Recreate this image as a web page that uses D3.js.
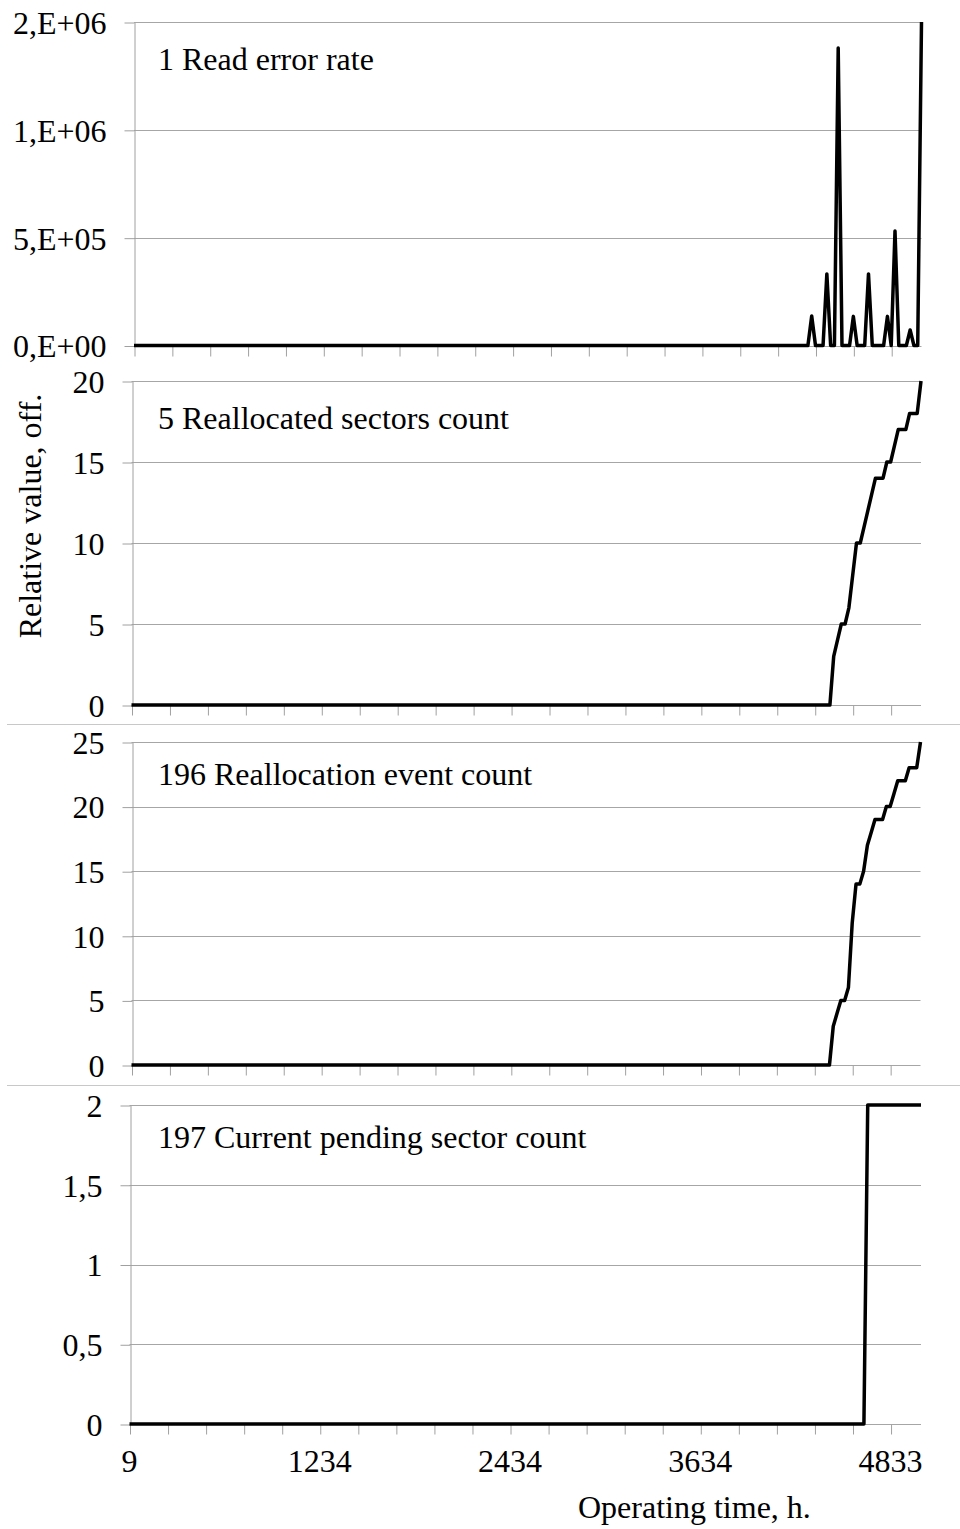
<!DOCTYPE html>
<html>
<head>
<meta charset="utf-8">
<script src="https://cdn.jsdelivr.net/npm/d3@7"></script>
<style>
body { margin: 0; background: #fff; }
text { font-family: "Liberation Serif", "Times New Roman", serif; font-size: 32px; fill: #000; }
</style>
</head>
<body>
<script>
// categories are daily samples, index 0..208, labelled every 50th
var nCategories = 209
var timeLabels = ["9", "1234", "2434", "3634", "4833"]
var timeLabelIndex = [0, 50, 100, 150, 200]

// series as [category index, value]; the flat zero stretch is given by its ends
var readErrorRate = [[0,0],[178,0],[179,137000],[180,0],[181,0],[182,0],[183,332000],[184,0],[185,0],
  [186,1379000],[187,0],[188,0],[189,0],[190,135000],[191,0],[192,0],[193,0],[194,332000],[195,0],
  [196,0],[197,0],[198,0],[199,135000],[200,0],[201,531000],[202,0],[203,0],[204,0],[205,72000],
  [206,0],[207,0],[208,1500000]]

var reallocatedSectors = [[0,0],[184,0],[185,3],[186,4],[187,5],[188,5],[189,6],[190,8],[191,10],
  [192,10],[193,11],[194,12],[195,13],[196,14],[197,14],[198,14],[199,15],[200,15],[201,16],[202,17],
  [203,17],[204,17],[205,18],[206,18],[207,18],[208,20]]

var reallocationEvents = [[0,0],[184,0],[185,3],[186,4],[187,5],[188,5],[189,6],[190,11],[191,14],
  [192,14],[193,15],[194,17],[195,18],[196,19],[197,19],[198,19],[199,20],[200,20],[201,21],[202,22],
  [203,22],[204,22],[205,23],[206,23],[207,23],[208,25]]

var pendingSectors = [[0,0],[193,0],[194,2],[208,2]]

var readTicks = [0, 500000, 1000000, 1500000]
var readTickLabels = ["0,E+00", "5,E+05", "1,E+06", "2,E+06"]
var sectorTicks = [0, 5, 10, 15, 20]
var eventTicks = [0, 5, 10, 15, 20, 25]
var pendingTicks = [0, 0.5, 1, 1.5, 2]
var pendingTickLabels = ["0", "0,5", "1", "1,5", "2"]

var panels = [
  {title: "1 Read error rate", data: readErrorRate, max: 1500000, ticks: readTicks, labels: readTickLabels,
   left: 134, right: 921.5, top: 22, bottom: 345.5, titleY: 70},
  {title: "5 Reallocated sectors count", data: reallocatedSectors, max: 20, ticks: sectorTicks, labels: null,
   left: 131.5, right: 921, top: 381, bottom: 705, titleY: 429},
  {title: "196 Reallocation event count", data: reallocationEvents, max: 25, ticks: eventTicks, labels: null,
   left: 131.5, right: 920.5, top: 742, bottom: 1065, titleY: 785},
  {title: "197 Current pending sector count", data: pendingSectors, max: 2, ticks: pendingTicks, labels: pendingTickLabels,
   left: 129.5, right: 921, top: 1105, bottom: 1424, titleY: 1148}
]

var svg = d3.select("body").append("svg")
    .attr("width", 960)
    .attr("height", 1529)

// thin separators between the stacked charts
svg.selectAll(".sep")
  .data([724.5, 1085.5])
  .enter().append("line")
    .attr("x1", 7).attr("x2", 960)
    .attr("y1", function(d) { return d }).attr("y2", function(d) { return d })
    .attr("stroke", "#c8c8c8").attr("stroke-width", 1)

panels.forEach(function(p, k) {
  var x = d3.scaleLinear().domain([0, nCategories - 1]).range([p.left, p.right])
  var y = d3.scaleLinear().domain([0, p.max]).range([p.bottom, p.top])
  var g = svg.append("g")

  // horizontal gridlines
  g.selectAll(".grid")
    .data(p.ticks)
    .enter().append("line")
      .attr("x1", p.left).attr("x2", p.right)
      .attr("y1", function(d) { return Math.round(y(d)) + 0.5 })
      .attr("y2", function(d) { return Math.round(y(d)) + 0.5 })
      .attr("stroke", "#a6a6a6").attr("stroke-width", 1)

  // y axis with outside ticks
  var yAxis = g.append("g")
    .attr("transform", "translate(" + (Math.round(p.left) + 0.5) + ",0.5)")
    .call(d3.axisLeft(y).tickValues(p.ticks).tickSize(10).tickSizeOuter(0).tickPadding(18)
      .tickFormat(function(d, i) { return p.labels ? p.labels[i] : d }))
  yAxis.selectAll("path, line").attr("stroke", "#a0a0a0")
  yAxis.selectAll("text")
    .attr("fill", "#000")
    .style("font-family", "'Liberation Serif', 'Times New Roman', serif")
    .style("font-size", "32px")
    .attr("dy", "0.34em")

  // x tick marks every 10 categories
  var xAxis = g.append("g")
    .attr("transform", "translate(0.5," + (Math.round(p.bottom) + 0.5) + ")")
    .call(d3.axisBottom(x).tickValues(d3.range(0, nCategories, 10)).tickSize(10).tickSizeOuter(0).tickFormat(""))
  xAxis.select(".domain").remove()
  xAxis.selectAll("line").attr("stroke", "#a0a0a0")

  // the series
  var line = d3.line()
    .x(function(d) { return x(d[0]) })
    .y(function(d) { return y(d[1]) })
  g.append("path")
    .datum(p.data)
    .attr("d", line)
    .attr("fill", "none")
    .attr("stroke", "#000")
    .attr("stroke-width", 3.5)
    .attr("stroke-linejoin", "round")

  g.append("text")
    .attr("x", 158)
    .attr("y", p.titleY)
    .text(p.title)

  // category labels only under the last chart
  if (k == panels.length - 1) {
    g.selectAll(".xlab")
      .data(timeLabels)
      .enter().append("text")
        .attr("x", function(d, i) { return x(timeLabelIndex[i]) })
        .attr("y", 1472)
        .attr("text-anchor", "middle")
        .text(function(d) { return d })
  }
})

svg.append("text")
    .attr("text-anchor", "middle")
    .attr("transform", "translate(41,516)rotate(-90)")
    .text("Relative value, off.")

svg.append("text")
    .attr("x", 578)
    .attr("y", 1518)
    .text("Operating time, h.")
</script>
</body>
</html>
